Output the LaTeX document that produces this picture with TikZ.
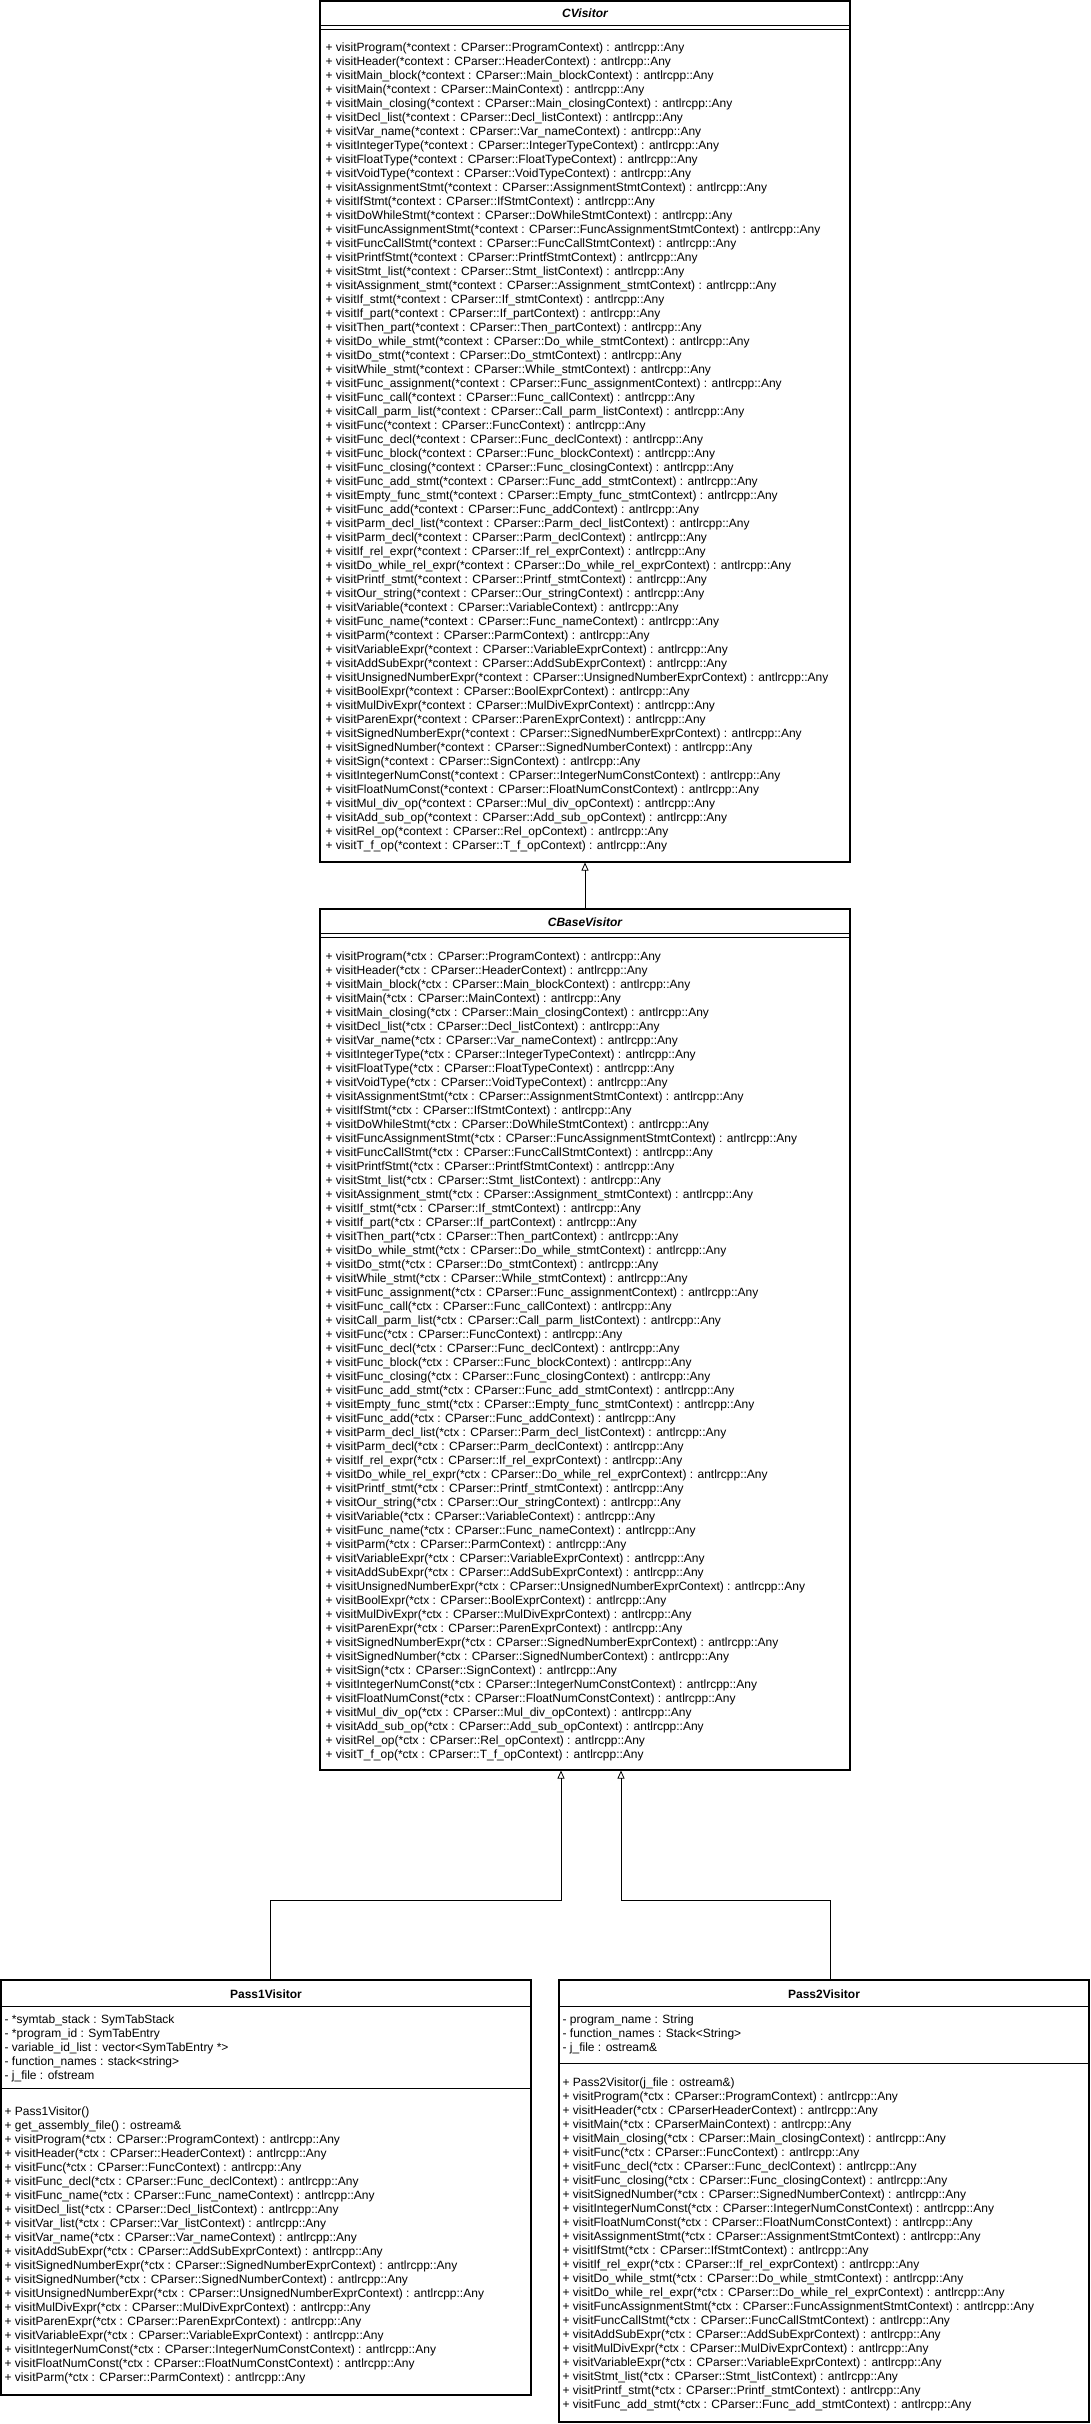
\documentclass[tikz,border=0pt]{standalone}
\usepackage{fontspec}
\setmainfont{Liberation Sans}
\usetikzlibrary{arrows.meta,positioning}

\newcommand{\cvop}[1]{+ visit#1(*context : CParser::#1Context) : antlrcpp::Any}
\newcommand{\bvop}[1]{+ visit#1(*ctx : CParser::#1Context) : antlrcpp::Any}

\begin{document}
\begin{tikzpicture}[x=1pt,y=-1pt,
  every node/.style={font=\fontsize{12}{14}\selectfont},
  classbox/.style={draw,line width=1.1pt,inner sep=0,minimum width=530},
  classname/.style={inner sep=0,font=\fontsize{12}{14}\selectfont\bfseries},
  members/.style={anchor=north west,align=left,inner sep=0},
  sep/.style={line width=1.1pt},
  inherit/.style={line width=0.8pt,-{Triangle[open,length=8pt,width=7pt]}}]
  \fill[white] (0,0) rectangle (1091,2424);
  \useasboundingbox (0,0) rectangle (1091,2424);

  \node[classbox,minimum height=861] (cvisitor) at (585,431.5) {};
  \node[classname] (cvtitle) at ([yshift=-13pt]cvisitor.north) {\itshape CVisitor};
  \draw[sep] ([yshift=-25pt]cvisitor.north west) -- ([yshift=-25pt]cvisitor.north east);
  \draw[sep] ([yshift=-29pt]cvisitor.north west) -- ([yshift=-29pt]cvisitor.north east);
  \node[members] (cvops) at ([xshift=6pt,yshift=-42.6pt]cvisitor.north west) {\cvop{Program}\\
    \cvop{Header}\\ \cvop{Main\_block}\\ \cvop{Main}\\ \cvop{Main\_closing}\\ \cvop{Decl\_list}\\
    \cvop{Var\_name}\\ \cvop{IntegerType}\\ \cvop{FloatType}\\ \cvop{VoidType}\\
    \cvop{AssignmentStmt}\\ \cvop{IfStmt}\\ \cvop{DoWhileStmt}\\ \cvop{FuncAssignmentStmt}\\
    \cvop{FuncCallStmt}\\ \cvop{PrintfStmt}\\ \cvop{Stmt\_list}\\ \cvop{Assignment\_stmt}\\
    \cvop{If\_stmt}\\ \cvop{If\_part}\\ \cvop{Then\_part}\\ \cvop{Do\_while\_stmt}\\ \cvop{Do\_stmt}\\
    \cvop{While\_stmt}\\ \cvop{Func\_assignment}\\ \cvop{Func\_call}\\ \cvop{Call\_parm\_list}\\
    \cvop{Func}\\ \cvop{Func\_decl}\\ \cvop{Func\_block}\\ \cvop{Func\_closing}\\ \cvop{Func\_add\_stmt}\\
    \cvop{Empty\_func\_stmt}\\ \cvop{Func\_add}\\ \cvop{Parm\_decl\_list}\\ \cvop{Parm\_decl}\\
    \cvop{If\_rel\_expr}\\ \cvop{Do\_while\_rel\_expr}\\ \cvop{Printf\_stmt}\\ \cvop{Our\_string}\\
    \cvop{Variable}\\ \cvop{Func\_name}\\ \cvop{Parm}\\ \cvop{VariableExpr}\\ \cvop{AddSubExpr}\\
    \cvop{UnsignedNumberExpr}\\ \cvop{BoolExpr}\\ \cvop{MulDivExpr}\\ \cvop{ParenExpr}\\
    \cvop{SignedNumberExpr}\\ \cvop{SignedNumber}\\ \cvop{Sign}\\ \cvop{IntegerNumConst}\\
    \cvop{FloatNumConst}\\ \cvop{Mul\_div\_op}\\ \cvop{Add\_sub\_op}\\ \cvop{Rel\_op}\\ \cvop{T\_f\_op}};

  \node[classbox,minimum height=861] (cbase) at (585,1339.5) {};
  \node[classname] (cbtitle) at ([yshift=-14pt]cbase.north) {\itshape CBaseVisitor};
  \draw[sep] ([yshift=-25pt]cbase.north west) -- ([yshift=-25pt]cbase.north east);
  \draw[sep] ([yshift=-29pt]cbase.north west) -- ([yshift=-29pt]cbase.north east);
  \node[members] (cbops) at ([xshift=6pt,yshift=-43.6pt]cbase.north west) {\bvop{Program}\\
    \bvop{Header}\\ \bvop{Main\_block}\\ \bvop{Main}\\ \bvop{Main\_closing}\\ \bvop{Decl\_list}\\
    \bvop{Var\_name}\\ \bvop{IntegerType}\\ \bvop{FloatType}\\ \bvop{VoidType}\\
    \bvop{AssignmentStmt}\\ \bvop{IfStmt}\\ \bvop{DoWhileStmt}\\ \bvop{FuncAssignmentStmt}\\
    \bvop{FuncCallStmt}\\ \bvop{PrintfStmt}\\ \bvop{Stmt\_list}\\ \bvop{Assignment\_stmt}\\
    \bvop{If\_stmt}\\ \bvop{If\_part}\\ \bvop{Then\_part}\\ \bvop{Do\_while\_stmt}\\ \bvop{Do\_stmt}\\
    \bvop{While\_stmt}\\ \bvop{Func\_assignment}\\ \bvop{Func\_call}\\ \bvop{Call\_parm\_list}\\
    \bvop{Func}\\ \bvop{Func\_decl}\\ \bvop{Func\_block}\\ \bvop{Func\_closing}\\ \bvop{Func\_add\_stmt}\\
    \bvop{Empty\_func\_stmt}\\ \bvop{Func\_add}\\ \bvop{Parm\_decl\_list}\\ \bvop{Parm\_decl}\\
    \bvop{If\_rel\_expr}\\ \bvop{Do\_while\_rel\_expr}\\ \bvop{Printf\_stmt}\\ \bvop{Our\_string}\\
    \bvop{Variable}\\ \bvop{Func\_name}\\ \bvop{Parm}\\ \bvop{VariableExpr}\\ \bvop{AddSubExpr}\\
    \bvop{UnsignedNumberExpr}\\ \bvop{BoolExpr}\\ \bvop{MulDivExpr}\\ \bvop{ParenExpr}\\
    \bvop{SignedNumberExpr}\\ \bvop{SignedNumber}\\ \bvop{Sign}\\ \bvop{IntegerNumConst}\\
    \bvop{FloatNumConst}\\ \bvop{Mul\_div\_op}\\ \bvop{Add\_sub\_op}\\ \bvop{Rel\_op}\\ \bvop{T\_f\_op}};

  \node[classbox,minimum height=415] (pass1) at (266,2187.5) {};
  \node[classname] (p1title) at ([yshift=-15pt]pass1.north) {Pass1Visitor};
  \draw[sep] ([yshift=-27pt]pass1.north west) -- ([yshift=-27pt]pass1.north east);
  \node[members] (p1attr) at ([xshift=4pt,yshift=-35.6pt]pass1.north west) {- *symtab\_stack : SymTabStack\\
    - *program\_id : SymTabEntry\\ - variable\_id\_list : vector<SymTabEntry *>\\
    - function\_names : stack<string>\\ - j\_file : ofstream};
  \draw[sep] ([yshift=-109pt]pass1.north west) -- ([yshift=-109pt]pass1.north east);
  \node[members] (p1ops) at ([xshift=4pt,yshift=-127.6pt]pass1.north west) {+ Pass1Visitor()\\
    + get\_assembly\_file() : ostream\&\\ \bvop{Program}\\ \bvop{Header}\\ \bvop{Func}\\
    \bvop{Func\_decl}\\ \bvop{Func\_name}\\ \bvop{Decl\_list}\\ \bvop{Var\_list}\\ \bvop{Var\_name}\\
    \bvop{AddSubExpr}\\ \bvop{SignedNumberExpr}\\ \bvop{SignedNumber}\\ \bvop{UnsignedNumberExpr}\\
    \bvop{MulDivExpr}\\ \bvop{ParenExpr}\\ \bvop{VariableExpr}\\ \bvop{IntegerNumConst}\\
    \bvop{FloatNumConst}\\ \bvop{Parm}};

  \node[classbox,minimum height=442] (pass2) at (824,2201) {};
  \node[classname] (p2title) at ([yshift=-15pt]pass2.north) {Pass2Visitor};
  \draw[sep] ([yshift=-27pt]pass2.north west) -- ([yshift=-27pt]pass2.north east);
  \node[members] (p2attr) at ([xshift=4pt,yshift=-35.6pt]pass2.north west) {- program\_name : String\\
    - function\_names : Stack<String>\\ - j\_file : ostream\&};
  \draw[sep] ([yshift=-84pt]pass2.north west) -- ([yshift=-84pt]pass2.north east);
  \node[members] (p2ops) at ([xshift=4pt,yshift=-98.6pt]pass2.north west) {+ Pass2Visitor(j\_file : ostream\&)\\
    \bvop{Program}\\ + visitHeader(*ctx : CParserHeaderContext) : antlrcpp::Any\\
    + visitMain(*ctx : CParserMainContext) : antlrcpp::Any\\ \bvop{Main\_closing}\\ \bvop{Func}\\
    \bvop{Func\_decl}\\ \bvop{Func\_closing}\\ \bvop{SignedNumber}\\ \bvop{IntegerNumConst}\\
    \bvop{FloatNumConst}\\ \bvop{AssignmentStmt}\\ \bvop{IfStmt}\\ \bvop{If\_rel\_expr}\\
    \bvop{Do\_while\_stmt}\\ \bvop{Do\_while\_rel\_expr}\\ \bvop{FuncAssignmentStmt}\\
    \bvop{FuncCallStmt}\\ \bvop{AddSubExpr}\\ \bvop{MulDivExpr}\\ \bvop{VariableExpr}\\
    \bvop{Stmt\_list}\\ \bvop{Printf\_stmt}\\ \bvop{Func\_add\_stmt}};

  \coordinate (p1end) at ([xshift=-24pt]cbase.south);
  \coordinate (p2end) at ([xshift=36pt]cbase.south);
  \draw[inherit] (cbase.north) -- (cvisitor.south);
  \draw[inherit] ([xshift=4pt]pass1.north) |- ([yshift=-130pt]p1end) -- (p1end);
  \draw[inherit] ([xshift=6pt]pass2.north) |- ([yshift=-130pt]p2end) -- (p2end);
\end{tikzpicture}
\end{document}
